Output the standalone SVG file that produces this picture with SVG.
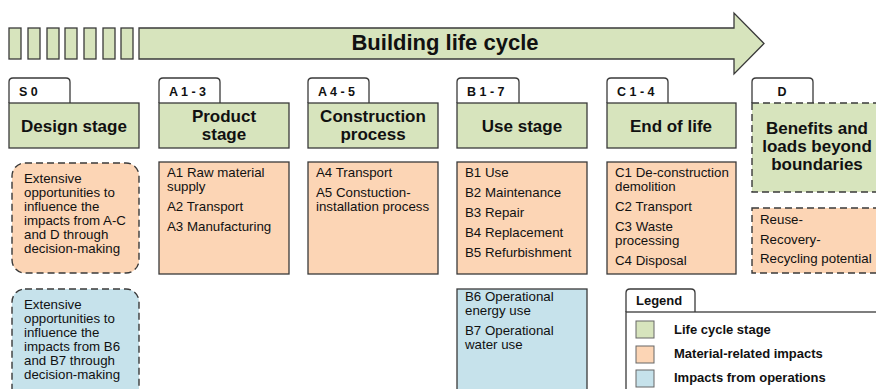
<svg xmlns="http://www.w3.org/2000/svg" width="876" height="389" viewBox="0 0 876 389">
  <style>
    .ln { stroke: #3a3a3a; stroke-width: 1.3; }
    .green { fill: #d7e4bd; }
    .orange { fill: #fcd5b5; }
    .blue { fill: #c6e2eb; }
    .tab { fill: #ffffff; }
    .dash { stroke-dasharray: 7 4; stroke-width: 1.4; }
    .t { font-family: "Liberation Sans", Arial, sans-serif; fill: #111; }
    .body { font-size: 13.3px; }
    .head { font-size: 17px; font-weight: bold; text-anchor: middle; }
    .tabt { font-size: 12.5px; font-weight: bold; }
    .leg { font-size: 13px; font-weight: bold; }
  </style>

  <!-- life cycle arrow -->
  <g id="lifecycle-arrow">
    <rect class="green ln" x="9" y="28" width="12" height="31"/>
    <rect class="green ln" x="28" y="28" width="12" height="31"/>
    <rect class="green ln" x="47" y="28" width="12" height="31"/>
    <rect class="green ln" x="65" y="28" width="12" height="31"/>
    <rect class="green ln" x="84" y="28" width="12" height="31"/>
    <rect class="green ln" x="103" y="28" width="12" height="31"/>
    <rect class="green ln" x="121" y="28" width="12" height="31"/>
    <path class="green ln" d="M139 28 H734 V13 L764 43.5 L734 74 V59 H139 Z"/>
    <text class="t" x="445" y="50" font-size="22" font-weight="bold" text-anchor="middle">Building life cycle</text>
  </g>

  <!-- S0 design stage -->
  <g id="stage-s0">
    <path class="tab ln" d="M9 103 V82 Q9 78 13 78 H66 Q70 78 70 82 V103"/>
    <text class="t tabt" x="19" y="96">S 0</text>
    <rect class="green ln" x="9" y="103" width="130" height="45"/>
    <text class="t head" x="74" y="132">Design stage</text>
  </g>
  <g id="s0-material">
    <rect class="orange ln dash" x="12" y="163" width="127" height="110" rx="13"/>
    <text class="t body">
      <tspan x="24" y="183">Extensive</tspan>
      <tspan x="24" y="197">opportunities to</tspan>
      <tspan x="24" y="211">influence the</tspan>
      <tspan x="24" y="225">impacts from A-C</tspan>
      <tspan x="24" y="239">and D through</tspan>
      <tspan x="24" y="253">decision-making</tspan>
    </text>
  </g>
  <g id="s0-operation">
    <rect class="blue ln dash" x="12" y="289" width="127" height="115" rx="13"/>
    <text class="t body">
      <tspan x="24" y="309">Extensive</tspan>
      <tspan x="24" y="323">opportunities to</tspan>
      <tspan x="24" y="337">influence the</tspan>
      <tspan x="24" y="351">impacts from B6</tspan>
      <tspan x="24" y="365">and B7 through</tspan>
      <tspan x="24" y="379">decision-making</tspan>
    </text>
  </g>

  <!-- A1-3 product stage -->
  <g id="stage-a13">
    <path class="tab ln" d="M159 103 V82 Q159 78 163 78 H216 Q220 78 220 82 V103"/>
    <text class="t tabt" x="169" y="96">A 1 - 3</text>
    <rect class="green ln" x="159" y="103" width="130" height="45"/>
    <text class="t head"><tspan x="224" y="122">Product</tspan><tspan x="224" y="140">stage</tspan></text>
  </g>
  <g id="a13-material">
    <rect class="orange ln" x="159" y="162" width="130" height="112"/>
    <text class="t body">
      <tspan x="167" y="177">A1 Raw material</tspan>
      <tspan x="167" y="191">supply</tspan>
      <tspan x="167" y="211">A2 Transport</tspan>
      <tspan x="167" y="231">A3 Manufacturing</tspan>
    </text>
  </g>

  <!-- A4-5 construction process -->
  <g id="stage-a45">
    <path class="tab ln" d="M308 103 V82 Q308 78 312 78 H365 Q369 78 369 82 V103"/>
    <text class="t tabt" x="318" y="96">A 4 - 5</text>
    <rect class="green ln" x="308" y="103" width="130" height="45"/>
    <text class="t head"><tspan x="373" y="122">Construction</tspan><tspan x="373" y="140">process</tspan></text>
  </g>
  <g id="a45-material">
    <rect class="orange ln" x="308" y="162" width="130" height="112"/>
    <text class="t body">
      <tspan x="316" y="177">A4 Transport</tspan>
      <tspan x="316" y="197">A5 Constuction-</tspan>
      <tspan x="316" y="211">installation process</tspan>
    </text>
  </g>

  <!-- B1-7 use stage -->
  <g id="stage-b17">
    <path class="tab ln" d="M457 103 V82 Q457 78 461 78 H515 Q519 78 519 82 V103"/>
    <text class="t tabt" x="467" y="96">B 1 - 7</text>
    <rect class="green ln" x="457" y="103" width="130" height="45"/>
    <text class="t head" x="522" y="132">Use stage</text>
  </g>
  <g id="b15-material">
    <rect class="orange ln" x="457" y="162" width="130" height="112"/>
    <text class="t body">
      <tspan x="465" y="177">B1 Use</tspan>
      <tspan x="465" y="197">B2 Maintenance</tspan>
      <tspan x="465" y="217">B3 Repair</tspan>
      <tspan x="465" y="237">B4 Replacement</tspan>
      <tspan x="465" y="257">B5 Refurbishment</tspan>
    </text>
  </g>
  <g id="b67-operation">
    <rect class="blue ln" x="457" y="289" width="130" height="115"/>
    <text class="t body">
      <tspan x="465" y="301">B6 Operational</tspan>
      <tspan x="465" y="315">energy use</tspan>
      <tspan x="465" y="335">B7 Operational</tspan>
      <tspan x="465" y="349">water use</tspan>
    </text>
  </g>

  <!-- C1-4 end of life -->
  <g id="stage-c14">
    <path class="tab ln" d="M607 103 V82 Q607 78 611 78 H664 Q668 78 668 82 V103"/>
    <text class="t tabt" x="617" y="96">C 1 - 4</text>
    <rect class="green ln" x="607" y="103" width="129" height="45"/>
    <text class="t head" x="671" y="132">End of life</text>
  </g>
  <g id="c14-material">
    <rect class="orange ln" x="607" y="162" width="129" height="112"/>
    <text class="t body">
      <tspan x="615" y="177">C1 De-construction</tspan>
      <tspan x="615" y="191">demolition</tspan>
      <tspan x="615" y="211">C2 Transport</tspan>
      <tspan x="615" y="231">C3 Waste</tspan>
      <tspan x="615" y="245">processing</tspan>
      <tspan x="615" y="265">C4 Disposal</tspan>
    </text>
  </g>

  <!-- D beyond system boundaries -->
  <g id="stage-d">
    <path class="tab ln" d="M752 103 V82 Q752 78 756 78 H809 Q813 78 813 82 V103"/>
    <text class="t tabt" x="782" y="96" text-anchor="middle">D</text>
    <rect class="green ln dash" x="752" y="103" width="140" height="89"/>
    <text class="t head"><tspan x="817" y="134">Benefits and</tspan><tspan x="817" y="152">loads beyond</tspan><tspan x="817" y="170">boundaries</tspan></text>
  </g>
  <g id="d-material">
    <rect class="orange ln dash" x="752" y="208" width="140" height="65"/>
    <text class="t body">
      <tspan x="760" y="224">Reuse-</tspan>
      <tspan x="760" y="244">Recovery-</tspan>
      <tspan x="760" y="263">Recycling potential</tspan>
    </text>
  </g>

  <!-- legend -->
  <g id="legend">
    <path class="tab ln" d="M626 312 V293 Q626 289 630 289 H691 Q695 289 695 293 V312"/>
    <text class="t leg" x="636" y="305">Legend</text>
    <rect class="tab ln" x="626" y="312" width="270" height="90"/>
    <rect class="green" x="636" y="321" width="18" height="17" stroke="#666" stroke-width="1"/>
    <rect class="orange" x="636" y="346" width="18" height="17" stroke="#666" stroke-width="1"/>
    <rect class="blue" x="636" y="370" width="18" height="17" stroke="#666" stroke-width="1"/>
    <text class="t leg" x="674" y="334">Life cycle stage</text>
    <text class="t leg" x="674" y="358">Material-related impacts</text>
    <text class="t leg" x="674" y="382">Impacts from operations</text>
  </g>

  <!-- no connectors besides the arrow -->
  <g id="connectors"/>
</svg>
